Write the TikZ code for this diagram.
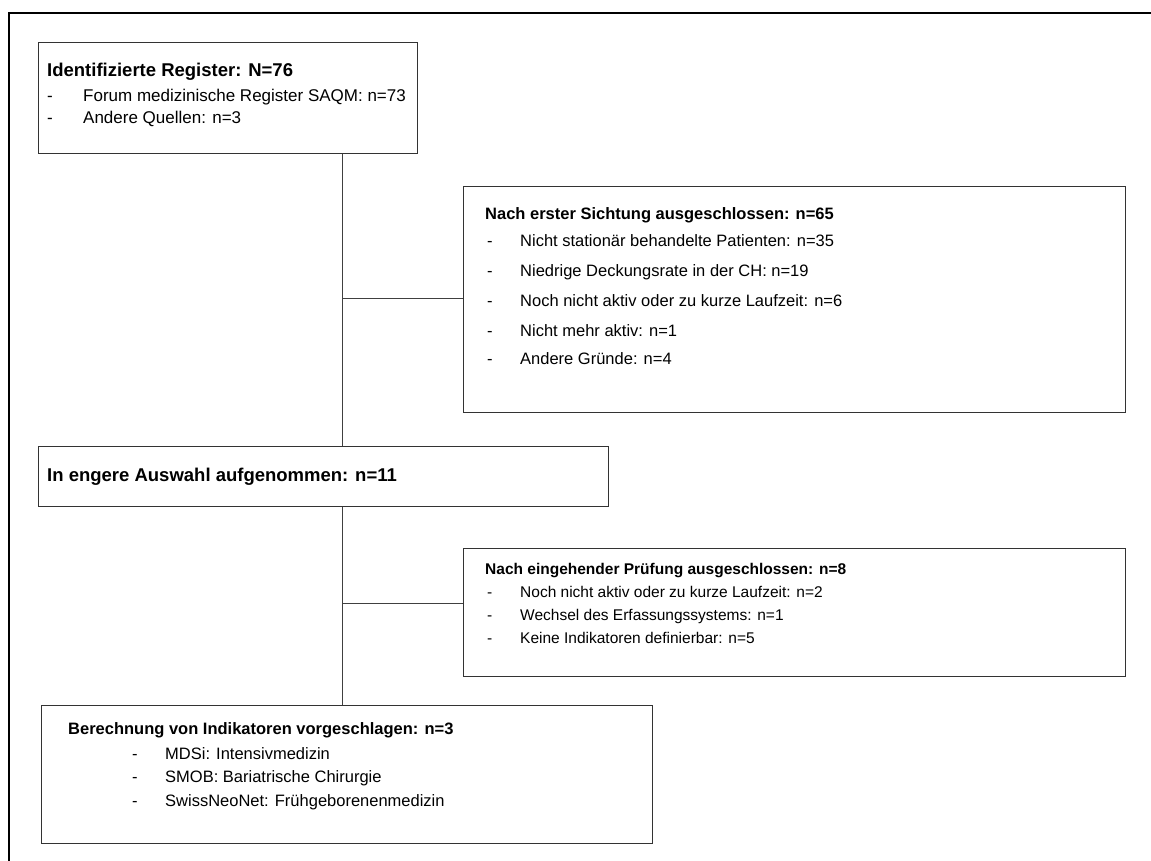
\documentclass[tikz,border=0pt]{standalone}
\usepackage{fontspec}
\setmainfont{Liberation Sans}
\begin{document}
\begin{tikzpicture}[x=1pt,y=-1pt,
  boxst/.style={draw=black!80,line width=1.3pt,rectangle,inner sep=0pt,anchor=north west},
  conn/.style={draw=black!75,line width=1pt},
  txt/.style={anchor=base west,inner sep=0pt,font=\fontsize{17}{20}\selectfont},
  ttl/.style={anchor=base west,inner sep=0pt,font=\fontsize{17}{20}\selectfont\bfseries},
  bigttl/.style={ttl,font=\fontsize{18.5}{22}\selectfont\bfseries},
  midtxt/.style={txt,font=\fontsize{16.5}{20}\selectfont},
  midttl/.style={ttl,font=\fontsize{16.5}{20}\selectfont\bfseries},
  smtxt/.style={txt,font=\fontsize{15.5}{19}\selectfont},
  smttl/.style={ttl,font=\fontsize{15.5}{19}\selectfont\bfseries}]
\useasboundingbox (0,0) rectangle (1151,861);
\draw[line width=2pt] (9,880) -- (9,13) -- (1170,13);
% boxes
\node[boxst,minimum width=379pt,minimum height=111pt] (b1) at (38,42) {};
\node[boxst,minimum width=662pt,minimum height=226pt] (b2) at (463,186) {};
\node[boxst,minimum width=570pt,minimum height=60pt] (b3) at (38,446) {};
\node[boxst,minimum width=662pt,minimum height=128pt] (b4) at (463,548) {};
\node[boxst,minimum width=611pt,minimum height=138pt] (b5) at (41,705) {};
% connectors
\coordinate (vx) at (342,0);
\coordinate (j1) at (342,298);
\coordinate (j2) at (342,603);
\draw[conn] (b1.south -| vx) -- (b3.north -| vx);
\draw[conn] (j1) -- (j1 -| b2.west);
\draw[conn] (b3.south -| vx) -- (b5.north -| vx);
\draw[conn] (j2) -- (j2 -| b4.west);
% box 1 text
\node[bigttl] (t1) at (47,77) {Identifizierte Register: N=76};
\node[txt] (d11) at (47,102) {-};
\node[txt] (i11) at (83,102) {Forum medizinische Register SAQM: n=73};
\node[txt] (d12) at (47,124) {-};
\node[txt] (i12) at (83,124) {Andere Quellen: n=3};
% box 2 text
\node[midttl] (t2) at (485,219) {Nach erster Sichtung ausgeschlossen: n=65};
\node[midtxt] (d21) at (487,247) {-};
\node[midtxt] (i21) at (520,247) {Nicht stationär behandelte Patienten: n=35};
\node[midtxt] (d22) at (487,276) {-};
\node[midtxt] (i22) at (520,276) {Niedrige Deckungsrate in der CH: n=19};
\node[midtxt] (d23) at (487,306) {-};
\node[midtxt] (i23) at (520,306) {Noch nicht aktiv oder zu kurze Laufzeit: n=6};
\node[midtxt] (d24) at (487,336) {-};
\node[midtxt] (i24) at (520,336) {Nicht mehr aktiv: n=1};
\node[midtxt] (d25) at (487,364) {-};
\node[midtxt] (i25) at (520,364) {Andere Gründe: n=4};
% box 3 text
\node[bigttl] (t3) at (47,481) {In engere Auswahl aufgenommen: n=11};
% box 4 text
\node[smttl] (t4) at (485,574) {Nach eingehender Prüfung ausgeschlossen: n=8};
\node[smtxt] (d41) at (487,597) {-};
\node[smtxt] (i41) at (520,597) {Noch nicht aktiv oder zu kurze Laufzeit: n=2};
\node[smtxt] (d42) at (487,620) {-};
\node[smtxt] (i42) at (520,620) {Wechsel des Erfassungssystems: n=1};
\node[smtxt] (d43) at (487,643) {-};
\node[smtxt] (i43) at (520,643) {Keine Indikatoren definierbar: n=5};
% box 5 text
\node[midttl] (t5) at (68,734) {Berechnung von Indikatoren vorgeschlagen: n=3};
\node[midtxt] (d51) at (132,759) {-};
\node[midtxt] (i51) at (165,759) {MDSi: Intensivmedizin};
\node[midtxt] (d52) at (132,782) {-};
\node[midtxt] (i52) at (165,782) {SMOB: Bariatrische Chirurgie};
\node[midtxt] (d53) at (132,806) {-};
\node[midtxt] (i53) at (165,806) {SwissNeoNet: Frühgeborenenmedizin};
\end{tikzpicture}
\end{document}
